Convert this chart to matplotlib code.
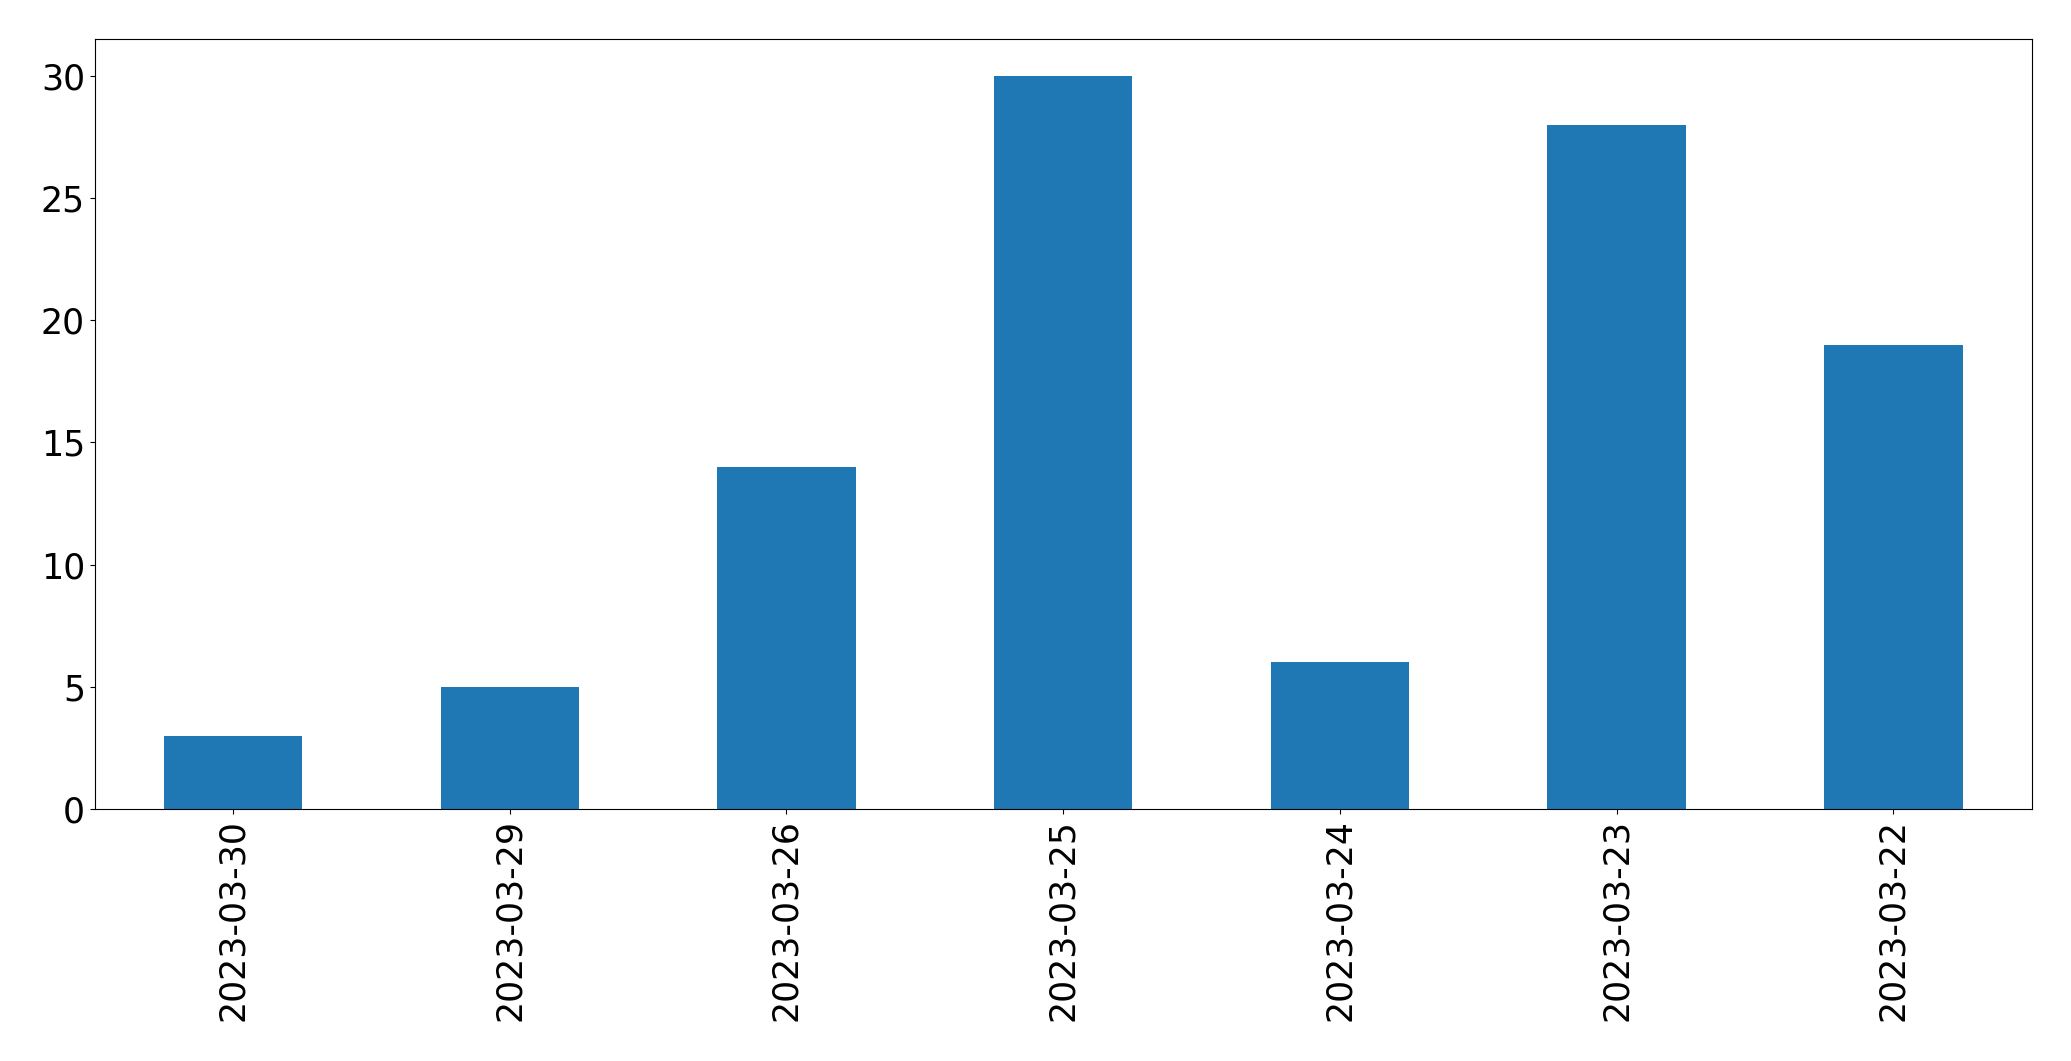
import matplotlib
matplotlib.use("Agg")
import matplotlib.pyplot as plt

dates = ["2023-03-30", "2023-03-29", "2023-03-26", "2023-03-25",
         "2023-03-24", "2023-03-23", "2023-03-22"]
counts = [3, 5, 14, 30, 6, 28, 19]

fig = plt.figure(figsize=(20.71, 10.61), dpi=100)
ax = fig.add_axes([94.7 / 2071, 1 - 809 / 1061, (2031.7 - 94.7) / 2071, (809 - 39.3) / 1061])
x = list(range(len(dates)))
ax.bar(x, counts, width=0.5, color="#1f77b4")
ax.set_xlim(-0.5, len(dates) - 0.5)
ax.set_ylim(0, max(counts) * 1.05)
ax.set_xticks(x)
ax.set_xticklabels(dates, rotation=90, fontsize=25)
ax.tick_params(axis="y", labelsize=25)
fig.savefig("out.png", dpi=100)
